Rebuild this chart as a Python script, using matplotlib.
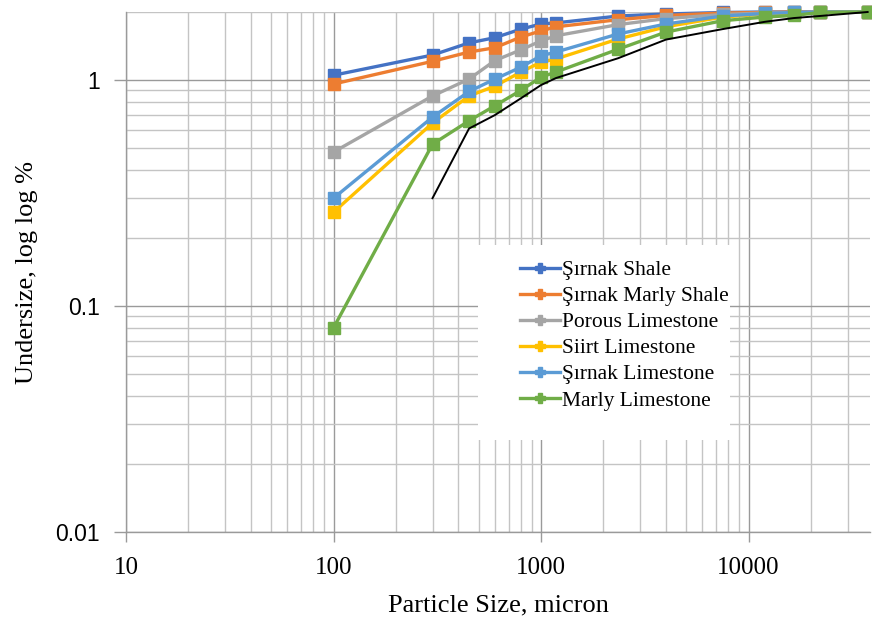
import matplotlib
matplotlib.use("Agg")
from matplotlib import pyplot as plt
from matplotlib.lines import Line2D
from matplotlib.patches import Rectangle
from matplotlib.ticker import LogLocator, NullFormatter

# sieve sizes, micron
sizes = [100, 300, 450, 600, 800, 1000, 1180, 2360, 4000, 7500, 12000, 16500, 22000, 37500]

sirnak_shale = [1.05, 1.29, 1.46, 1.54, 1.68, 1.77, 1.79, 1.92, 1.96, 1.99, 2.0, 2.0, 2.0, 2.0]
sirnak_marly_shale = [0.96, 1.21, 1.33, 1.39, 1.55, 1.65, 1.72, 1.85, 1.93, 1.98, 1.99, 2.0, 2.0, 2.0]
porous_limestone = [0.48, 0.85, 1.01, 1.22, 1.36, 1.49, 1.57, 1.76, 1.87, 1.95, 1.98, 1.99, 2.0, 2.0]
siirt_limestone = [0.26, 0.645, 0.85, 0.94, 1.085, 1.20, 1.24, 1.52, 1.72, 1.90, 1.96, 1.98, 1.99, 2.0]
sirnak_limestone = [0.30, 0.685, 0.89, 1.01, 1.14, 1.28, 1.33, 1.60, 1.77, 1.92, 1.97, 1.99, 2.0, 2.0]
marly_limestone = [0.08, 0.52, 0.66, 0.77, 0.90, 1.03, 1.085, 1.37, 1.63, 1.83, 1.90, 1.93, 1.99, 2.0]

# reference curve (no markers, not in legend)
ref_sizes = [300, 450, 600, 800, 1000, 1180, 2360, 4000, 7500, 12000, 16500, 22000, 37500]
ref_values = [0.30, 0.61, 0.70, 0.83, 0.95, 1.02, 1.25, 1.51, 1.68, 1.81, 1.88, 1.92, 2.0]

labels = ["Şırnak Shale", "Şırnak Marly Shale", "Porous Limestone",
          "Siirt Limestone", "Şırnak Limestone", "Marly Limestone"]
series = [sirnak_shale, sirnak_marly_shale, porous_limestone,
          siirt_limestone, sirnak_limestone, marly_limestone]
colors = ["#4472C4", "#ED7D31", "#A5A5A5", "#FFC000", "#5B9BD5", "#70AD47"]

serif = "Liberation Serif"
sans = "Liberation Sans"

fig = plt.figure(figsize=(8.72, 6.24), dpi=100)
ax = fig.add_axes([126 / 872, 92 / 624, 744 / 872, 520 / 624])
ax.set_xscale("log")
ax.set_yscale("log")
ax.set_xlim(10, 38500)
ax.set_ylim(0.01, 2)

for vals, col in zip(series, colors):
    ax.plot(sizes, vals, color=col, lw=2.4, marker="s", ms=9,
            mec=col, mfc=col, clip_on=False, zorder=3)
ax.plot(ref_sizes, ref_values, color="black", lw=1.4, zorder=4, clip_on=False)

# grid
ax.xaxis.set_minor_locator(LogLocator(base=10, subs=range(2, 10)))
ax.yaxis.set_minor_locator(LogLocator(base=10, subs=range(2, 10)))
ax.xaxis.set_minor_formatter(NullFormatter())
ax.yaxis.set_minor_formatter(NullFormatter())
ax.grid(which="major", color="#9a9a9a", lw=1.0, zorder=0)
ax.grid(which="minor", color="#c4c4c4", lw=1.0, zorder=0)
ax.set_axisbelow(True)

ax.set_xticks([10, 100, 1000, 10000], labels=["10", "100", "1000", "10000"])
ax.set_yticks([0.01, 0.1, 1], labels=["0.01", "0.1", "1"])
ax.tick_params(axis="x", which="major", length=7, width=1, color="#9a9a9a", pad=11,
               labelsize=18)
ax.tick_params(axis="y", which="major", length=9, width=1, color="#9a9a9a", pad=10,
               labelsize=16.5)
ax.tick_params(which="minor", length=0)
for t in ax.get_xticklabels():
    t.set_fontfamily(serif)
for t in ax.get_yticklabels():
    t.set_fontfamily(sans)

for side in ["top", "right"]:
    ax.spines[side].set_visible(False)
for side in ["left", "bottom"]:
    ax.spines[side].set_color("#9a9a9a")
    ax.spines[side].set_linewidth(1.0)

ax.set_xlabel("Particle Size, micron", fontfamily=serif, fontsize=19, labelpad=11)
ax.set_ylabel("Undersize, log log %", fontfamily=serif, fontsize=19, labelpad=12)

# white legend area, text clipped at its edge
box = Rectangle((0.473, 0.177), 0.339, 0.375, transform=ax.transAxes,
                facecolor="white", edgecolor="none", zorder=5)
ax.add_patch(box)
handles = [Line2D([], [], color=c, lw=2.4, marker="P", ms=7, mec=c, mfc=c) for c in colors]
leg = ax.legend(handles, labels, loc="upper left", bbox_to_anchor=(0.530, 0.523),
                frameon=False, borderpad=0, borderaxespad=0, handlelength=1.85,
                handletextpad=0.1, labelspacing=0.28,
                prop={"family": serif, "size": 15.5})
leg.set_zorder(6)
for t in leg.get_texts():
    t.set_clip_path(box)

fig.savefig("out.png", dpi=100)
